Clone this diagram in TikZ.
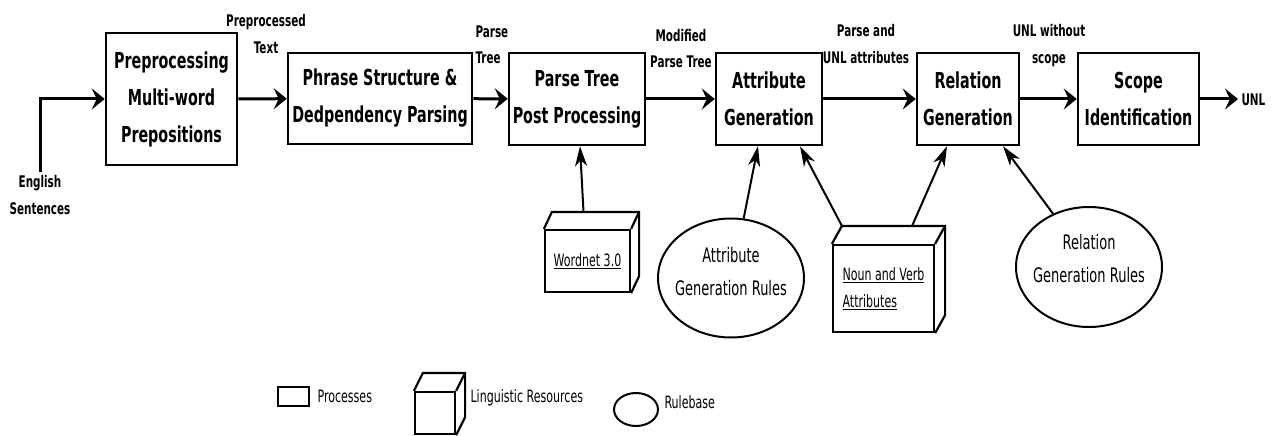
\documentclass[tikz,border=0pt]{standalone}
\usepackage{fontspec}
\setmainfont{DejaVu Sans}[FakeStretch=0.65]
\usepackage{tikz}
\usetikzlibrary{shapes.geometric, arrows.meta, positioning}
\tikzset{
  process/.style={draw, rectangle, line width=2.5pt, inner sep=0pt, align=center, font=\fontsize{22}{37}\selectfont\bfseries}, % Define the process style
  resource/.style={draw, rectangle, line width=2.2pt, inner sep=0pt, align=left, font=\fontsize{17}{27}\selectfont}, % Define the resource style
  cubeedge/.style={line width=2.2pt},
  rulebase/.style={draw, ellipse, line width=2pt, inner sep=0pt},
  ruletext/.style={align=center, font=\fontsize{20}{33}\selectfont},
  flow/.style={-{Stealth[length=13pt,width=21pt,inset=5pt]}, line width=3pt},
  feed/.style={-{Stealth[length=20pt,width=12pt,inset=6pt]}, line width=2pt},
  flowlabel/.style={align=center, font=\fontsize{16}{26.5}\selectfont\bfseries},
  legtext/.style={anchor=west, font=\fontsize{17}{20}\selectfont}
}
\begin{document}
\begin{tikzpicture}[x=1pt, y=-1pt]
        \useasboundingbox (0,0) rectangle (1278,436);

        % Processes
        \node[process, minimum width=131pt, minimum height=132pt] (pre) at (171.5,99) {Preprocessing\\Multi-word\\Prepositions};
        \node[process, minimum width=184pt, minimum height=91pt] (psp) at (380,98.5) {Phrase Structure \&\\Dedpendency Parsing};
        \node[process, minimum width=136pt, minimum height=92pt] (ptp) at (577,99) {Parse Tree\\Post Processing};
        \node[process, minimum width=106pt, minimum height=92pt] (atg) at (769,99) {Attribute\\Generation};
        \node[process, minimum width=102pt, minimum height=92pt] (rlg) at (968,99) {Relation\\Generation};
        \node[process, minimum width=121pt, minimum height=92pt] (sci) at (1138.5,99) {Scope\\Identification};

        % Input and output
        \node[flowlabel] (eng) at (40,195) {English\\Sentences};
        \node[flowlabel, anchor=west] (unl) at (1238,100) {UNL};

        % Main flow
        \draw[flow] (eng.north) |- (pre.west);
        \foreach \a/\b in {pre/psp, psp/ptp, ptp/atg, atg/rlg, rlg/sci}
          \draw[flow] (\a) -- (\b);
        \draw[flow] (sci.east) -- (sci.east -| unl.west);

        % Flow labels
        \node[flowlabel] (l1) at (266,34) {Preprocessed\\Text};
        \node[flowlabel, align=left, anchor=west] (l2) at (472,45) {Parse\\Tree};
        \node[flowlabel] (l3) at (681,48.5) {Modified\\Parse Tree};
        \node[flowlabel] (l4) at (866,44) {Parse and\\UNL attributes};
        \node[flowlabel] (l5) at (1049,45.5) {UNL without\\scope};

        % Linguistic resources
        \node[resource, minimum width=85pt, minimum height=62pt, align=center] (wn) at (587.5,261) {\underline{Wordnet 3.0}};
        \node[resource, minimum width=101pt, minimum height=87pt] (nv) at (883.5,288.5) {\underline{Noun and Verb}\\\underline{Attributes}};

        % Rulebases
        \node[rulebase, minimum width=146pt, minimum height=119pt] (agr) at (731,278) {};
        \node[ruletext] at (731,271.5) {Attribute\\Generation Rules};
        \node[rulebase, minimum width=146pt, minimum height=120pt] (rgr) at (1089,267) {};
        \node[ruletext] at (1089,258.5) {Relation\\Generation Rules};

        % Legend
        \node[draw, line width=2pt, minimum width=31pt, minimum height=19pt, inner sep=0pt] (lproc) at (293.5,396.5) {};
        \node[legtext, right=4pt of lproc] {Processes};
        \node[resource, minimum width=40pt, minimum height=42pt] (lres) at (435,413) {};
        \node[legtext] at (467,398) {Linguistic Resources};
        \node[rulebase, minimum width=44pt, minimum height=33pt] (lrule) at (636,409.5) {};
        \node[legtext, right=2pt of lrule, yshift=7pt] {Rulebase};

        % Cube tops and sides
        \foreach \c/\dx/\dy in {wn/8/17, nv/10/18, lres/9/18} {
          \draw[cubeedge] (\c.north west) -- ++(\dx,-\dy) -| ([shift={(\dx pt,\dy pt)}]\c.south east) -- (\c.south east);
          \draw[cubeedge] (\c.north east) -- ++(\dx,-\dy);
        }

        % Resource and rule inputs
        \draw[feed] ([shift={(-4pt,17pt)}]wn.north) -- ([xshift=3pt]ptp.south);
        \draw[feed] (agr.78) -- ([xshift=-11pt]atg.south);
        \draw[feed] ([shift={(10pt,18pt)}]nv.north west) -- ([xshift=31pt]atg.south);
        \draw[feed] ([shift={(-23pt,18pt)}]nv.north east) -- ([xshift=-21pt]rlg.south);
        \draw[feed] (rgr.124) -- ([xshift=35pt]rlg.south);
    \end{tikzpicture}
\end{document}
